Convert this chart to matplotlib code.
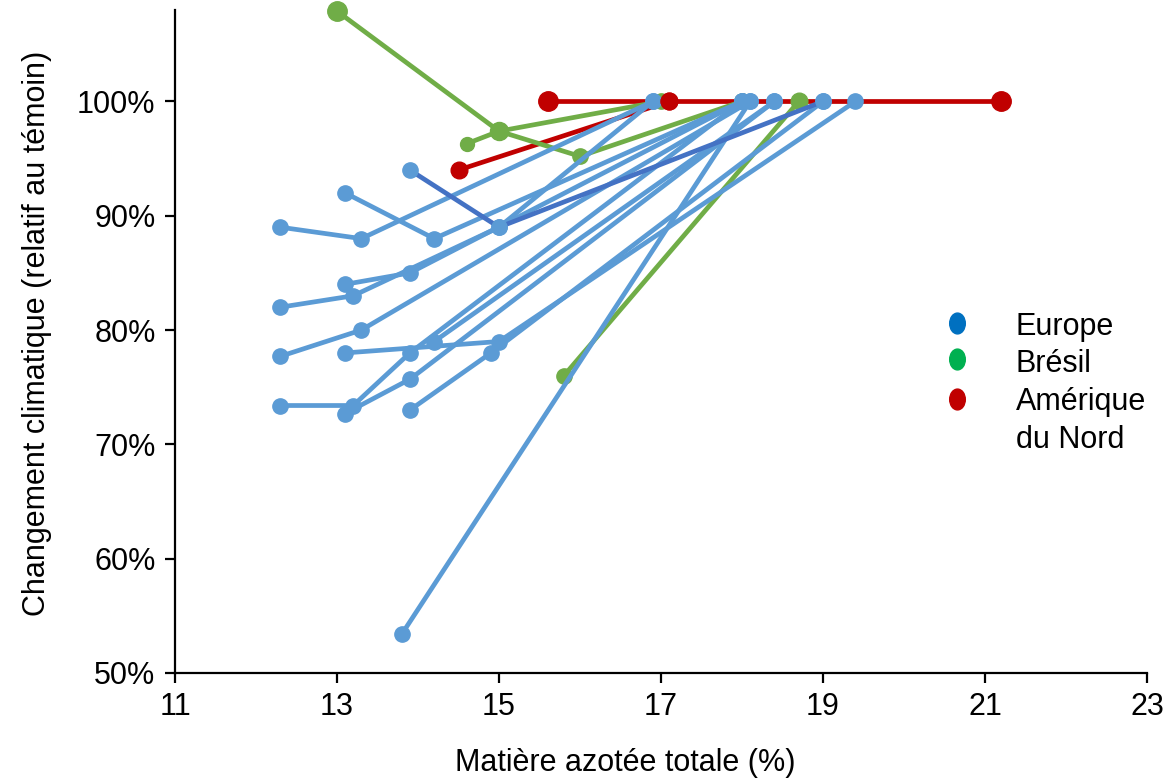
import numpy as np
import matplotlib
matplotlib.use('Agg')
import matplotlib.pyplot as plt
from matplotlib.lines import Line2D
from matplotlib.path import Path

plt.rcParams['font.family'] = ['Liberation Sans', 'DejaVu Sans']

# --- données (x = MAT %, y = % du témoin) ---
europe_x = [
    [12.3, 13.3, 16.9],
    [13.1, 14.2, 18.0],
    [12.3, 13.2, 15.0, 16.9],
    [13.1, 13.9, 18.0],
    [12.3, 13.3, 18.1],
    [13.1, 15.0, 19.4],
    [12.3, 13.2, 13.9, 18.0],
    [13.1, 13.9, 18.4],
    [13.9, 14.9, 19.0],
    [13.8, 18.1],
    [14.2, 18.4],
]
europe_y = [
    [89.0, 88.0, 100],
    [92.0, 88.0, 100],
    [82.0, 83.0, 89.0, 100],
    [84.0, 85.0, 100],
    [77.7, 80.0, 100],
    [78.0, 79.0, 100],
    [73.4, 73.4, 78.0, 100],
    [72.7, 75.7, 100],
    [73.0, 78.0, 100],
    [53.4, 100],
    [79.0, 100],
]
# série en bleu foncé
europe2_x = [13.9, 15.0, 19.0]
europe2_y = [94.0, 89.0, 100]

bresil_x = [
    [13.0, 15.0, 16.0, 18.0],
    [14.6, 15.0, 17.0],
    [15.8, 18.7],
]
bresil_y = [
    [107.9, 97.4, 95.2, 100],
    [96.3, 97.4, 100],
    [76.0, 100],
]

amn_x = [
    [15.6, 17.1, 21.2],
    [14.5, 17.1],
]
amn_y = [
    [100, 100, 100],
    [94.0, 100],
]

legende = ['Europe', 'Brésil', 'Amérique', 'du Nord']

c_bleu = '#5B9BD5'
c_bleu2 = '#4472C4'
c_vert = '#70AD47'
c_rouge = '#C00000'
fs = 22

fig = plt.figure(figsize=(11.68, 7.80), dpi=100)
ax = fig.add_axes([175/1168, 1 - 673/780, (1147 - 175)/1168, (673 - 10)/780])

lw = 3.4
# Amérique du Nord (lignes dessous)
for xs, ys in zip(amn_x, amn_y):
    ax.plot(xs, ys, '-', color=c_rouge, lw=lw, zorder=1)

# Brésil
ms_bresil = [[14, 13, 11, 11], [10, 12, 11], [11, 12]]
for xs, ys, ms in zip(bresil_x, bresil_y, ms_bresil):
    ax.plot(xs, ys, '-', color=c_vert, lw=lw, zorder=2)
    for xx, yy, m in zip(xs, ys, ms):
        ax.plot(xx, yy, 'o', color=c_vert, ms=m, zorder=2, clip_on=False)

# Europe
for xs, ys in zip(europe_x, europe_y):
    ax.plot(xs, ys, '-o', color=c_bleu, lw=lw, ms=11, zorder=3)
ax.plot(europe2_x, europe2_y, '-', color=c_bleu2, lw=lw, zorder=3)
ax.plot(europe2_x, europe2_y, 'o', color=c_bleu, ms=11, zorder=3)

# marqueurs rouges au dessus
ms_amn = [[14, 12, 14], [12, 12]]
for xs, ys, ms in zip(amn_x, amn_y, ms_amn):
    for xx, yy, m in zip(xs, ys, ms):
        ax.plot(xx, yy, 'o', color=c_rouge, ms=m, zorder=4)

ax.set_xlim(11, 23)
ax.set_ylim(50, 108)
ax.set_xticks(np.arange(11, 24, 2))
ax.set_yticks(np.arange(50, 101, 10))
ax.set_yticklabels([f'{v}%' for v in range(50, 101, 10)])
ax.spines['top'].set_visible(False)
ax.spines['right'].set_visible(False)
ax.spines['left'].set_linewidth(1.6)
ax.spines['bottom'].set_linewidth(1.6)
ax.tick_params(direction='out', length=7, width=1.6, labelsize=fs, pad=7)
ax.set_xlabel('Matière azotée totale (%)', fontsize=fs, va='top')
ax.xaxis.set_label_coords((625 - 175)/972, (673 - 748)/663)
ax.set_ylabel('Changement climatique (relatif au témoin)', fontsize=fs)
ax.yaxis.set_label_coords((52 - 175)/972, (673 - 333)/663)

# légende faite à la main (points ovales)
circ = Path.unit_circle()
ovale = Path(circ.vertices * [0.75, 1.0], circ.codes)
for c, ypx in zip(['#0070C0', '#00B050', '#C00000'], [323, 359, 399]):
    fig.add_artist(Line2D([957/1168], [1 - ypx/780], ls='', marker=ovale,
                          ms=15, color=c, transform=fig.transFigure))
for txt, ypx in zip(legende, [323, 360, 399, 436]):
    fig.text(1016/1168, 1 - ypx/780, txt, fontsize=fs, va='center_baseline')

fig.savefig('out.png', dpi=100)
